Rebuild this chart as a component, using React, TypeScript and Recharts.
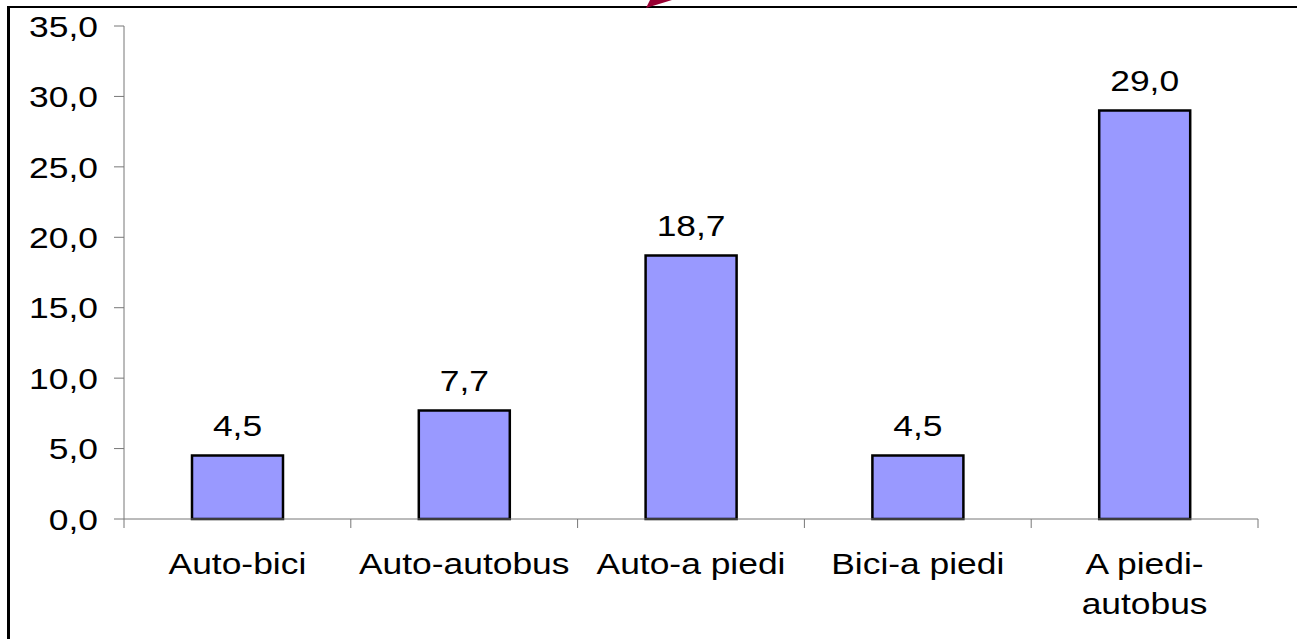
import React from 'react';
import { BarChart, Bar, XAxis, YAxis, LabelList } from 'recharts';

const categories = ['Auto-bici', 'Auto-autobus', 'Auto-a piedi', 'Bici-a piedi', 'A piedi-autobus'];
const shares = [4.5, 7.7, 18.7, 4.5, 29.0];
const yTicks = [0, 5, 10, 15, 20, 25, 30, 35];

const data = categories.map((name, i) => ({ name, value: shares[i] }));

const W = 1297;
const H = 639;
const MARGIN = { top: 26, right: 39, bottom: 0, left: 0 };
const Y_AXIS_W = 124;
const X_AXIS_H = 120;
const PLOT_W = W - MARGIN.left - MARGIN.right - Y_AXIS_W;
const FONT = '"Liberation Sans", Arial, sans-serif';
const FONT_SIZE = 30;
// the original text is drawn a bit wider than it is tall
const STRETCH = 1.18;
const AXIS_GREY = '#777';

const fmt = (v: number) => v.toFixed(1).replace('.', ',');

function StretchedText({ x, y, anchor, children }: any) {
  return (
    <text
      transform={`translate(${x},${y}) scale(${STRETCH},1)`}
      textAnchor={anchor}
      fontFamily={FONT}
      fontSize={FONT_SIZE}
      fill="#000"
    >
      {children}
    </text>
  );
}

function YTick({ x, y, payload }: any) {
  return (
    <StretchedText x={x} y={y + 10.7} anchor="end">
      {fmt(payload.value)}
    </StretchedText>
  );
}

// long names wrap after the first hyphen
function splitLabel(s: string) {
  if (s.length <= 12) return [s];
  const i = s.indexOf('-');
  return [s.slice(0, i + 1), s.slice(i + 1)];
}

function XTick({ x, y, payload, index, visibleTicksCount }: any) {
  const half = PLOT_W / categories.length / 2;
  const lines = splitLabel(payload.value);
  return (
    <g>
      <line x1={x - half} x2={x - half} y1={y} y2={y + 9} stroke={AXIS_GREY} />
      {index === visibleTicksCount - 1 && (
        <line x1={x + half} x2={x + half} y1={y} y2={y + 9} stroke={AXIS_GREY} />
      )}
      {lines.map((l, i) => (
        <StretchedText key={i} x={x} y={y + 55 + i * 40} anchor="middle">
          {l}
        </StretchedText>
      ))}
    </g>
  );
}

function ValueLabel({ x, y, width, value }: any) {
  return (
    <StretchedText x={x + width / 2} y={y - 19.5} anchor="middle">
      {fmt(value)}
    </StretchedText>
  );
}

export default function App() {
  return (
    <div
      style={{
        position: 'absolute',
        top: 0,
        left: 0,
        width: W,
        height: H,
        background: '#fff',
        overflow: 'hidden',
      }}
    >
      <div
        style={{
          position: 'absolute',
          top: 6,
          left: 7,
          width: W,
          height: H,
          borderTop: '2px solid #000',
          borderLeft: '3px solid #000',
        }}
      />
      <div style={{ position: 'absolute', top: 0, left: 0 }}>
        <BarChart width={W} height={H} data={data} margin={MARGIN}>
          <XAxis
            dataKey="name"
            height={X_AXIS_H}
            interval={0}
            tickLine={false}
            tickSize={0}
            tickMargin={0}
            axisLine={{ stroke: AXIS_GREY }}
            tick={<XTick />}
          />
          <YAxis
            width={Y_AXIS_W}
            domain={[0, 35]}
            ticks={yTicks}
            interval={0}
            tickSize={10}
            tickMargin={16}
            axisLine={{ stroke: AXIS_GREY }}
            tickLine={{ stroke: AXIS_GREY }}
            tick={<YTick />}
          />
          <Bar
            dataKey="value"
            fill="#9999FF"
            stroke="#000"
            strokeWidth={2.5}
            barSize={91}
            isAnimationActive={false}
          >
            <LabelList dataKey="value" content={<ValueLabel />} />
          </Bar>
        </BarChart>
      </div>
      <svg
        width={W}
        height={20}
        style={{ position: 'absolute', top: 0, left: 0, pointerEvents: 'none' }}
      >
        <polygon points="646,8 650,0 672,0" fill="#990033" />
      </svg>
    </div>
  );
}
